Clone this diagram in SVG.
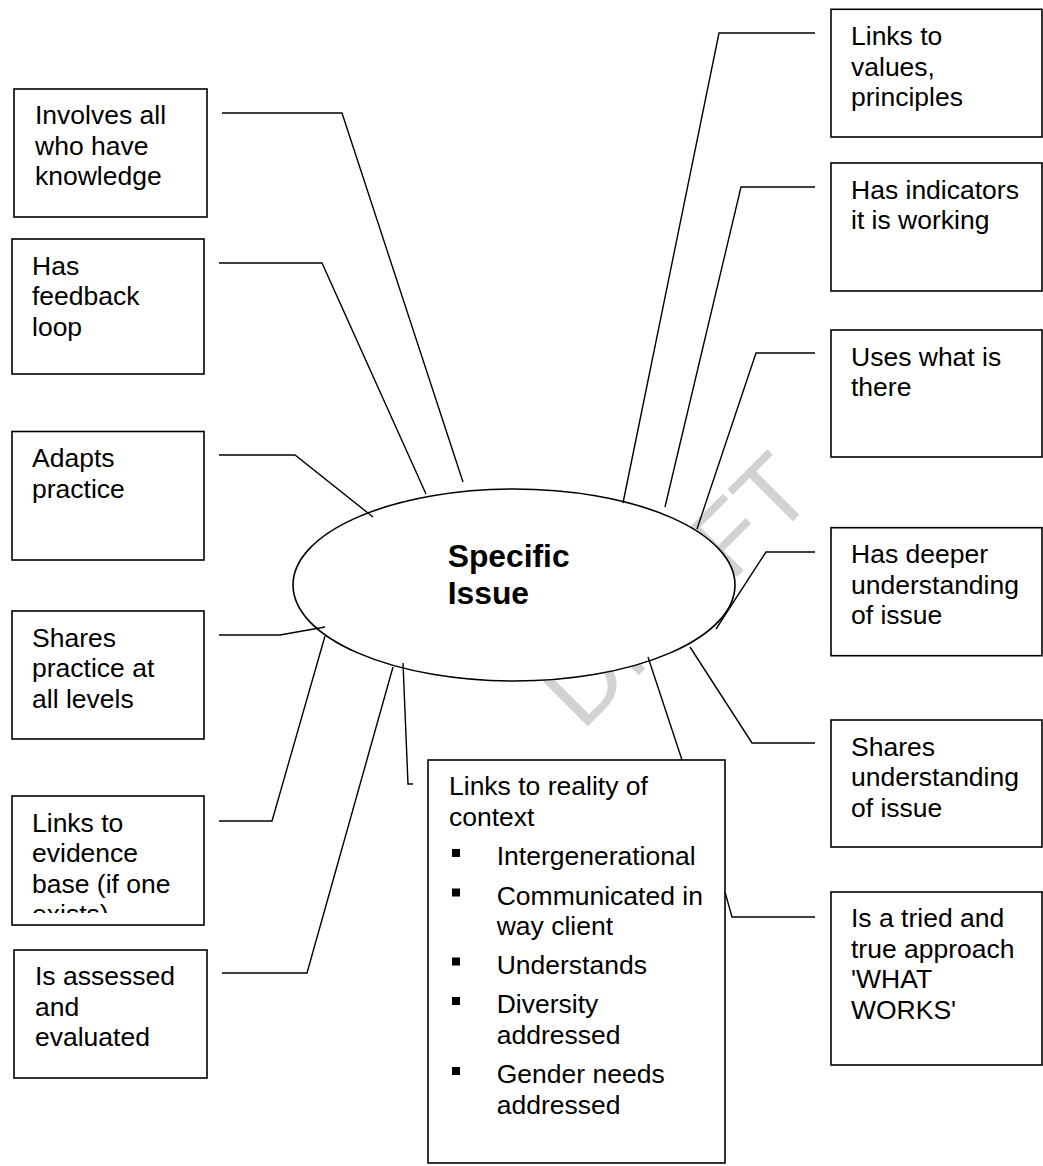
<svg xmlns="http://www.w3.org/2000/svg" width="1043" height="1166" viewBox="0 0 1043 1166">
<style>
  .box { fill: #ffffff; stroke: #000000; stroke-width: 1.6; }
  .t { font-family: "Liberation Sans", Arial, sans-serif; font-size: 26.5px; fill: #000000; }
  .title { font-family: "Liberation Sans", Arial, sans-serif; font-size: 31.8px; font-weight: bold; fill: #000000; }
  .conn { fill: none; stroke: #000000; stroke-width: 1.4; }
  .bullet { fill: #000000; }
  .wm { font-family: "Liberation Sans", Arial, sans-serif; font-size: 100px; fill: #d2d2d2; }
</style>
<defs>
  <clipPath id="clipEvidence">
    <rect x="12" y="796" width="192" height="117"/>
  </clipPath>
</defs>
<rect width="1043" height="1166" fill="#ffffff"/>

<text class="wm" transform="translate(582,732) rotate(-45)">DRAFT</text>

<g id="center">
  <ellipse cx="514" cy="585" rx="221" ry="96" fill="#ffffff" stroke="#000000" stroke-width="1.6"/>
  <text class="title" x="447.7" y="566.7">Specific</text>
  <text class="title" x="447.7" y="604">Issue</text>
</g>

<g id="connectors">
  <path class="conn" d="M222,113 H342 L463,482"/>
  <path class="conn" d="M219,263 H322 L426,494"/>
  <path class="conn" d="M219,455 H295 L373,517"/>
  <path class="conn" d="M219,635 H280 L325,627"/>
  <path class="conn" d="M219,821 H272 L325,636"/>
  <path class="conn" d="M222,973 H307 L393,667"/>
  <path class="conn" d="M403,663 L408,784 H413"/>
  <path class="conn" d="M648,657 L682,760"/>
  <path class="conn" d="M815,917 H732 L725,892"/>
  <path class="conn" d="M815,743 H752 L690,647"/>
  <path class="conn" d="M815,552 H766 L716,629"/>
  <path class="conn" d="M815,353 H756 L697,529"/>
  <path class="conn" d="M815,187 H741 L665,507"/>
  <path class="conn" d="M815,33 H719 L623,503"/>
</g>

<g id="involves">
  <rect class="box" x="14" y="89" width="193" height="128"/>
  <text class="t" x="35" y="124">Involves all</text>
  <text class="t" x="35" y="154.5">who have</text>
  <text class="t" x="35" y="185">knowledge</text>
</g>

<g id="feedback">
  <rect class="box" x="12" y="239" width="192" height="135"/>
  <text class="t" x="32" y="274.5">Has</text>
  <text class="t" x="32" y="305">feedback</text>
  <text class="t" x="32" y="335.5">loop</text>
</g>

<g id="adapts">
  <rect class="box" x="12" y="431.5" width="192" height="128.5"/>
  <text class="t" x="32" y="467">Adapts</text>
  <text class="t" x="32" y="497.5">practice</text>
</g>

<g id="shares-practice">
  <rect class="box" x="12" y="611" width="192" height="128"/>
  <text class="t" x="32" y="646.5">Shares</text>
  <text class="t" x="32" y="677">practice at</text>
  <text class="t" x="32" y="707.5">all levels</text>
</g>

<g id="evidence">
  <rect class="box" x="12" y="796" width="192" height="129"/>
  <g clip-path="url(#clipEvidence)">
    <text class="t" x="32" y="831.5">Links to</text>
    <text class="t" x="32" y="862">evidence</text>
    <text class="t" x="32" y="892.5">base (if one</text>
    <text class="t" x="32" y="923">exists)</text>
  </g>
</g>

<g id="assessed">
  <rect class="box" x="14" y="950" width="193" height="128"/>
  <text class="t" x="35" y="985">Is assessed</text>
  <text class="t" x="35" y="1015.5">and</text>
  <text class="t" x="35" y="1046">evaluated</text>
</g>

<g id="reality">
  <rect class="box" x="428" y="760" width="297" height="403"/>
  <text class="t" x="449" y="795">Links to reality of</text>
  <text class="t" x="449" y="825.5">context</text>
  <rect class="bullet" x="452" y="849" width="8" height="8"/>
  <text class="t" x="496.7" y="865">Intergenerational</text>
  <rect class="bullet" x="452" y="888.5" width="8" height="8"/>
  <text class="t" x="496.7" y="904.5">Communicated in</text>
  <text class="t" x="496.7" y="935">way client</text>
  <rect class="bullet" x="452" y="957.5" width="8" height="8"/>
  <text class="t" x="496.7" y="973.5">Understands</text>
  <rect class="bullet" x="452" y="997" width="8" height="8"/>
  <text class="t" x="496.7" y="1013">Diversity</text>
  <text class="t" x="496.7" y="1043.5">addressed</text>
  <rect class="bullet" x="452" y="1067" width="8" height="8"/>
  <text class="t" x="496.7" y="1083">Gender needs</text>
  <text class="t" x="496.7" y="1113.5">addressed</text>
</g>

<g id="values">
  <rect class="box" x="831" y="9.3" width="211" height="127.7"/>
  <text class="t" x="851" y="45">Links to</text>
  <text class="t" x="851" y="75.5">values,</text>
  <text class="t" x="851" y="106">principles</text>
</g>

<g id="indicators">
  <rect class="box" x="831" y="163" width="211" height="128"/>
  <text class="t" x="851" y="198.5">Has indicators</text>
  <text class="t" x="851" y="229">it is working</text>
</g>

<g id="uses">
  <rect class="box" x="831" y="330" width="211" height="127"/>
  <text class="t" x="851" y="365.5">Uses what is</text>
  <text class="t" x="851" y="396">there</text>
</g>

<g id="deeper">
  <rect class="box" x="831" y="527.7" width="211" height="128"/>
  <text class="t" x="851" y="563">Has deeper</text>
  <text class="t" x="851" y="593.5">understanding</text>
  <text class="t" x="851" y="624">of issue</text>
</g>

<g id="shares-understanding">
  <rect class="box" x="831" y="720" width="211" height="127"/>
  <text class="t" x="851" y="755.5">Shares</text>
  <text class="t" x="851" y="786">understanding</text>
  <text class="t" x="851" y="816.5">of issue</text>
</g>

<g id="tried">
  <rect class="box" x="831" y="892" width="211" height="173"/>
  <text class="t" x="851" y="927">Is a tried and</text>
  <text class="t" x="851" y="957.5">true approach</text>
  <text class="t" x="851" y="988">'WHAT</text>
  <text class="t" x="851" y="1018.5">WORKS'</text>
</g>
</svg>
